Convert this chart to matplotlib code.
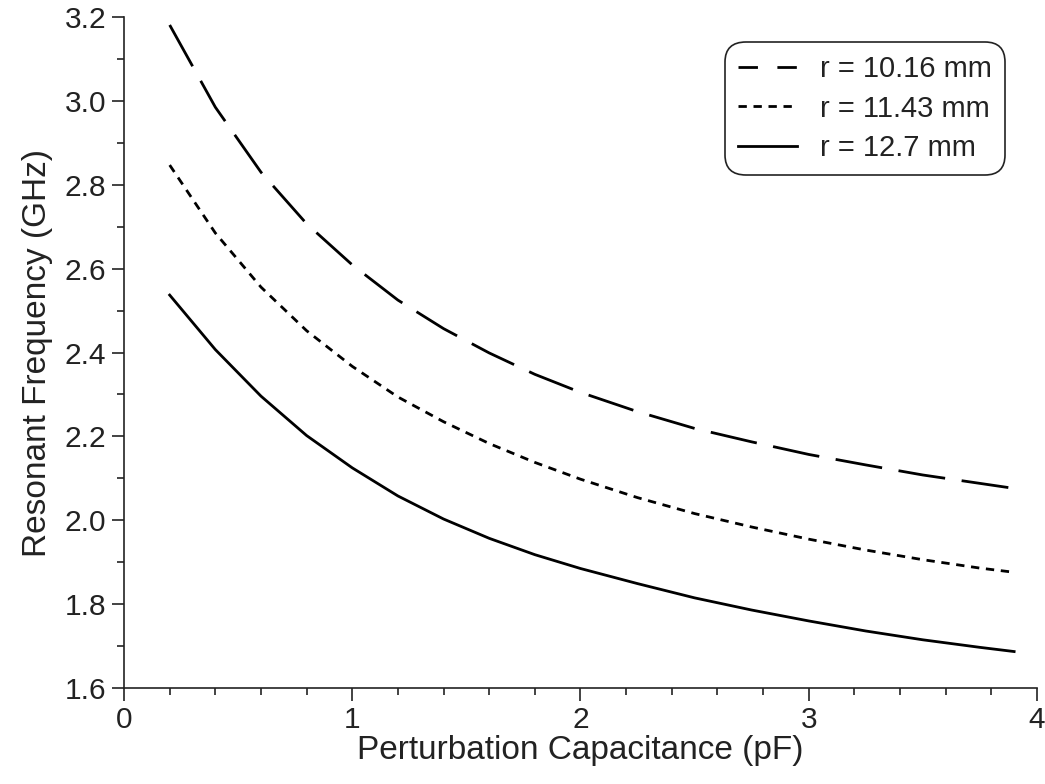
import matplotlib.pyplot as plt
from matplotlib.lines import Line2D

plt.rcParams['font.family'] = ['Liberation Sans', 'DejaVu Sans']

# perturbation capacitance (pF)
cap = [0.2, 0.4, 0.6, 0.8, 1.0, 1.2, 1.4, 1.6, 1.8, 2.0, 2.25, 2.5,
       2.75, 3.0, 3.25, 3.5, 3.75, 3.9]

# resonant frequency (GHz) for each radius
f_1016 = [3.181, 2.985, 2.830, 2.707, 2.609, 2.525, 2.457, 2.399, 2.348,
          2.305, 2.259, 2.219, 2.187, 2.157, 2.132, 2.108, 2.088, 2.076]
f_1143 = [2.847, 2.685, 2.556, 2.452, 2.367, 2.294, 2.235, 2.183, 2.138,
          2.098, 2.054, 2.016, 1.984, 1.955, 1.929, 1.906, 1.886, 1.876]
f_1270 = [2.537, 2.407, 2.296, 2.202, 2.125, 2.058, 2.003, 1.957, 1.918,
          1.885, 1.849, 1.815, 1.786, 1.760, 1.736, 1.715, 1.697, 1.687]

labels = ['r = 10.16 mm', 'r = 11.43 mm', 'r = 12.7 mm']

fig = plt.figure(figsize=(10.45, 7.84), dpi=100)
ax = fig.add_axes([0.1187, 0.1224, 0.8736, 0.8559])

lw = 2.0
ax.plot(cap, f_1016, color='black', lw=lw, dashes=(17, 6))
ax.plot(cap, f_1143, color='black', lw=lw, dashes=(3, 2.4))
ax.plot(cap, f_1270, color='black', lw=lw)

ax.set_xlim(0, 4)
ax.set_ylim(1.6, 3.2)
ax.set_xticks([0, 1, 2, 3, 4])
ax.set_xticks([x / 5 for x in range(21)], minor=True)
ax.set_yticks([1.6, 1.8, 2.0, 2.2, 2.4, 2.6, 2.8, 3.0, 3.2])
ax.set_yticks([1.7, 1.9, 2.1, 2.3, 2.5, 2.7, 2.9, 3.1], minor=True)
ax.set_yticklabels(['1.6', '1.8', '2.0', '2.2', '2.4', '2.6', '2.8', '3.0', '3.2'])

for s in ['top', 'right']:
    ax.spines[s].set_visible(False)
for s in ['left', 'bottom']:
    ax.spines[s].set_linewidth(1.2)
    ax.spines[s].set_color('#222222')

ax.tick_params(which='major', direction='out', length=9, width=1.2,
               labelsize=21.5, colors='#222222', pad=4)
ax.tick_params(which='minor', direction='out', length=5, width=1.2,
               colors='#222222')

ax.set_xlabel('Perturbation Capacitance (pF)', fontsize=24, color='#222222', labelpad=1)
ax.set_ylabel('Resonant Frequency (GHz)', fontsize=24, color='#222222', labelpad=8)

handles = [Line2D([], [], color='black', lw=lw, dashes=(7, 7)),
           Line2D([], [], color='black', lw=lw, dashes=(3, 2.4)),
           Line2D([], [], color='black', lw=lw)]
leg = ax.legend(handles, labels, loc='upper right', bbox_to_anchor=(0.965, 0.963),
                borderaxespad=0, fontsize=21, handlelength=2.0, labelspacing=0.4,
                fancybox=True, framealpha=1, edgecolor='#222222',
                borderpad=0.45, handletextpad=0.8)
leg.get_frame().set_linewidth(1.2)
leg.get_frame().set_boxstyle('round', pad=0, rounding_size=0.7)
for t in leg.get_texts():
    t.set_color('#222222')

fig.savefig('out.png', dpi=100)
